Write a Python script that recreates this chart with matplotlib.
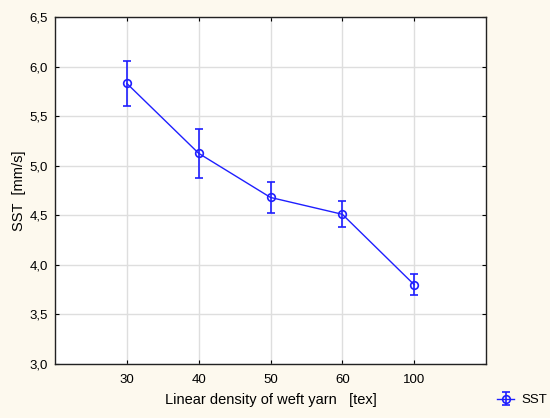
import matplotlib
import matplotlib.pyplot as plt
from matplotlib.ticker import FuncFormatter

matplotlib.use("Agg")
plt.rcParams["font.family"] = ["Liberation Sans", "DejaVu Sans"]

categories = ["30", "40", "50", "60", "100"]
sst_mean = [5.83, 5.125, 4.68, 4.51, 3.80]
sst_upper = [6.055, 5.37, 4.835, 4.64, 3.905]
sst_lower = [5.605, 4.88, 4.525, 4.38, 3.695]

err_low = [m - lo for m, lo in zip(sst_mean, sst_lower)]
err_high = [hi - m for m, hi in zip(sst_mean, sst_upper)]
xpos = list(range(len(categories)))

fig = plt.figure(figsize=(5.5, 4.18), dpi=100, facecolor="#fdf9ee")
ax = fig.add_axes([55 / 550, 1 - 364 / 418, 431 / 550, 347 / 418])
ax.set_facecolor("white")

ax.errorbar(xpos, sst_mean, yerr=[err_low, err_high], color="#1f1fff", lw=1.0,
            marker="o", ms=5.5, mfc="none", mec="#1f1fff", mew=1.2,
            capsize=2.8, elinewidth=1.2, capthick=1.2, label="SST")

ax.set_xlim(-1, 5)
ax.set_ylim(3.0, 6.5)
ax.set_xticks(xpos)
ax.set_xticklabels(categories)
ax.set_yticks([3.0, 3.5, 4.0, 4.5, 5.0, 5.5, 6.0, 6.5])
ax.yaxis.set_major_formatter(FuncFormatter(lambda v, p: f"{v:.1f}".replace(".", ",")))
ax.grid(True, color="#dedede", lw=1.0)
ax.set_axisbelow(True)
ax.tick_params(direction="in", length=3, labelsize=9.5, top=True, right=True, width=0.8)
ax.tick_params(axis="x", pad=7)
ax.tick_params(axis="y", pad=5)
for sp in ax.spines.values():
    sp.set_color("#222222")
    sp.set_linewidth(1.0)

ax.set_xlabel("Linear density of weft yarn   [tex]", fontsize=10.5, labelpad=5)
ax.set_ylabel("SST  [mm/s]", fontsize=10.5, labelpad=3)

fig.legend(loc="center left", bbox_to_anchor=(492 / 550, 1 - 400 / 418), frameon=False,
           fontsize=9.5, handlelength=1.3, handletextpad=0.5, borderaxespad=0)

fig.savefig("out.png", dpi=100, facecolor=fig.get_facecolor())
